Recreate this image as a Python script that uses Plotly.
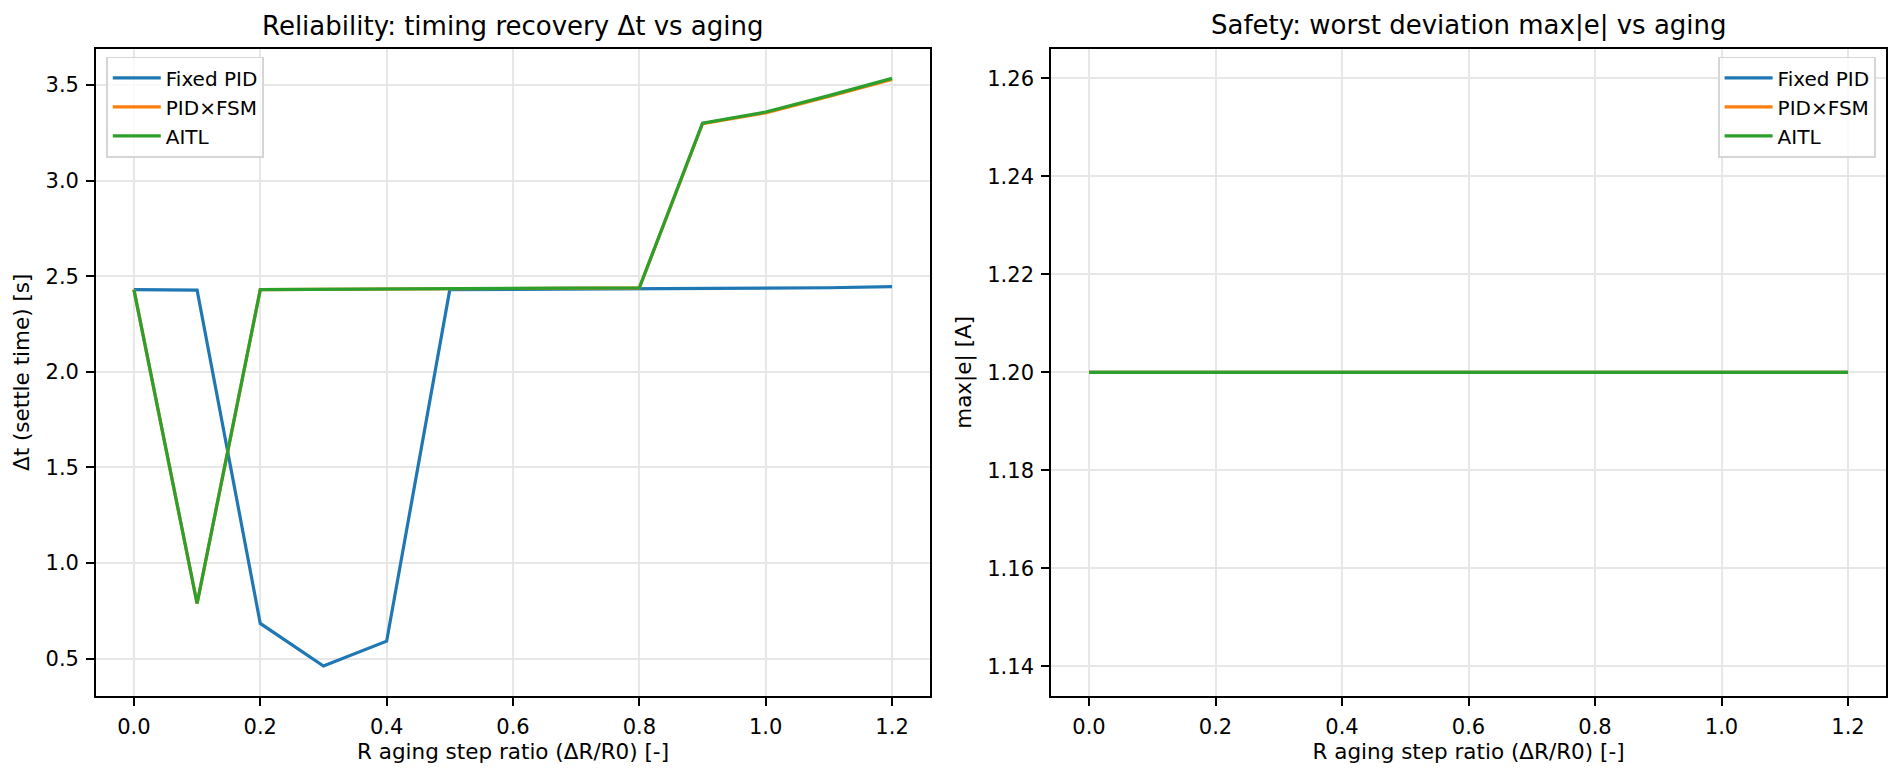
import plotly.graph_objects as go

# DATA
aging_ratio = [0.0, 0.1, 0.2, 0.3, 0.4, 0.5, 0.6, 0.7, 0.8, 0.9, 1.0, 1.1, 1.2]

settle_fixed_pid = [2.430, 2.428, 0.684, 0.461, 0.591, 2.430, 2.431, 2.432, 2.433, 2.435, 2.437, 2.440, 2.446]
settle_pid_fsm = [2.430, 0.788, 2.430, 2.431, 2.432, 2.433, 2.435, 2.437, 2.439, 3.298, 3.355, 3.440, 3.530]
settle_aitl = [2.430, 0.788, 2.430, 2.431, 2.432, 2.433, 2.435, 2.437, 2.440, 3.301, 3.359, 3.445, 3.535]

maxe_fixed_pid = [1.2] * 13
maxe_pid_fsm = [1.2] * 13
maxe_aitl = [1.2] * 13

names = ["Fixed PID", "PID×FSM", "AITL"]
colors = ["#1f77b4", "#ff7f0e", "#2ca02c"]

FONT = "DejaVu Sans"

fig = go.Figure()

left = [settle_fixed_pid, settle_pid_fsm, settle_aitl]
right = [maxe_fixed_pid, maxe_pid_fsm, maxe_aitl]

for i in range(3):
    fig.add_trace(go.Scatter(x=aging_ratio, y=left[i], mode="lines", name=names[i],
                             line=dict(color=colors[i], width=3.2),
                             xaxis="x", yaxis="y", legend="legend", legendgroup="l%d" % i))
for i in range(3):
    fig.add_trace(go.Scatter(x=aging_ratio, y=right[i], mode="lines", name=names[i],
                             line=dict(color=colors[i], width=3.2),
                             xaxis="x2", yaxis="y2", legend="legend2", legendgroup="r%d" % i))

axis_style = dict(showline=True, mirror=True, linecolor="black", linewidth=1.7,
                  ticks="outside", ticklen=8, tickwidth=1.7, tickcolor="black",
                  showgrid=True, gridcolor="#e7e7e7", gridwidth=1.5, zeroline=False,
                  tickfont=dict(family=FONT, size=21, color="black"), ticklabelstandoff=3)

legend_style = dict(font=dict(family=FONT, size=20, color="black"), bgcolor="rgba(255,255,255,0.8)",
                    bordercolor="#d6d6d6", borderwidth=1.7, yanchor="top", tracegroupgap=0,
                    itemwidth=48)

xlabel = "R aging step ratio (ΔR/R0) [-]"

fig.update_layout(
    width=1901, height=776,
    margin=dict(l=0, r=0, t=0, b=0),
    paper_bgcolor="white", plot_bgcolor="white",
    font=dict(family=FONT, color="black"),
    xaxis=dict(domain=[0.0505, 0.4892], range=[-0.06, 1.26], tickvals=[0, 0.2, 0.4, 0.6, 0.8, 1.0, 1.2],
               tickformat=".1f", anchor="y",
               title=dict(text=xlabel, font=dict(family=FONT, size=21.5), standoff=2),
               **axis_style),
    yaxis=dict(domain=[0.1035, 0.9369], range=[0.306, 3.689], tickvals=[0.5, 1.0, 1.5, 2.0, 2.5, 3.0, 3.5],
               tickformat=".1f", anchor="x",
               title=dict(text="Δt (settle time) [s]", font=dict(family=FONT, size=21.5), standoff=10),
               **axis_style),
    xaxis2=dict(domain=[0.5529, 0.9921], range=[-0.06, 1.26], tickvals=[0, 0.2, 0.4, 0.6, 0.8, 1.0, 1.2],
                tickformat=".1f", anchor="y2",
                title=dict(text=xlabel, font=dict(family=FONT, size=21.5), standoff=2),
                **axis_style),
    yaxis2=dict(domain=[0.1035, 0.9369], range=[1.134, 1.266],
                tickvals=[1.14, 1.16, 1.18, 1.20, 1.22, 1.24, 1.26], tickformat=".2f", anchor="x2",
                title=dict(text="max|e| [A]", font=dict(family=FONT, size=21.5), standoff=10),
                **axis_style),
    legend=dict(x=0.0558, y=0.927, xanchor="left", **legend_style),
    legend2=dict(x=0.9868, y=0.927, xanchor="right", **legend_style),
    annotations=[
        dict(text="Reliability: timing recovery Δt vs aging", x=0.2699, y=0.9369, xref="paper", yref="paper",
             xanchor="center", yanchor="bottom", yshift=6, showarrow=False,
             font=dict(family=FONT, size=26, color="black")),
        dict(text="Safety: worst deviation max|e| vs aging", x=0.7725, y=0.9369, xref="paper", yref="paper",
             xanchor="center", yanchor="bottom", yshift=6, showarrow=False,
             font=dict(family=FONT, size=26, color="black")),
    ],
)

# page body has a default 8px margin, drop it so the figure fills the window
fig.write_html("out.html", config={"displayModeBar": False},
               post_script="document.body.style.margin='0';")
